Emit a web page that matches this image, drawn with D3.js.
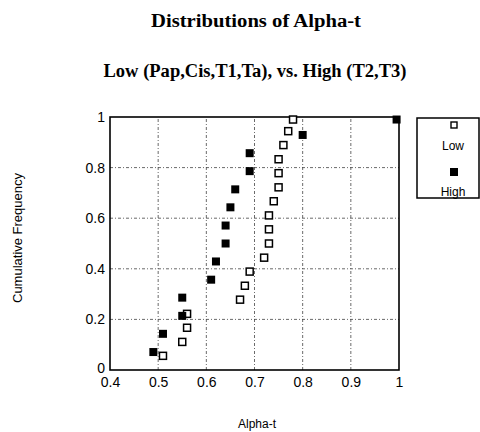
<!DOCTYPE html>
<html>
<head>
<meta charset="utf-8">
<script src="https://cdn.jsdelivr.net/npm/d3@7"></script>
<style>
	body { margin: 0; background: #fff; }
	.tick text { font-family: "Liberation Sans Narrow", "Liberation Sans", sans-serif; }
</style>
</head>
<body>
<script>
var width = 480,
	height = 432;

// Low group (Pap, Cis, T1, Ta): alpha-t and cumulative frequency
var lowX = [0.51, 0.55, 0.56, 0.56, 0.67, 0.68, 0.69, 0.72, 0.73, 0.73, 0.73, 0.74, 0.75, 0.75, 0.75, 0.76, 0.77, 0.78];
var lowY = [0.056, 0.111, 0.167, 0.222, 0.278, 0.333, 0.389, 0.444, 0.5, 0.556, 0.611, 0.667, 0.722, 0.778, 0.833, 0.889, 0.944, 0.99];

// High group (T2, T3)
var highX = [0.49, 0.51, 0.55, 0.55, 0.61, 0.62, 0.64, 0.64, 0.65, 0.66, 0.69, 0.69, 0.80, 0.995];
var highY = [0.071, 0.143, 0.214, 0.286, 0.357, 0.429, 0.5, 0.571, 0.643, 0.714, 0.786, 0.857, 0.929, 0.99];

var xTicks = [0.4, 0.5, 0.6, 0.7, 0.8, 0.9, 1];
var yTicks = [0, 0.2, 0.4, 0.6, 0.8, 1];

var margin = {left: 110, right: 81, top: 117, bottom: 62};

var x = d3.scaleLinear()
	.domain([0.4, 1])
	.range([margin.left, width - margin.right]);

var y = d3.scaleLinear()
	.domain([0, 1])
	.range([height - margin.bottom, margin.top]);

var svg = d3.select("body").append("svg")
	.attr("width", width)
	.attr("height", height);

// Titles
svg.append("text")
	.attr("x", 256)
	.attr("y", 27)
	.attr("text-anchor", "middle")
	.attr("textLength", 210)
	.attr("lengthAdjust", "spacingAndGlyphs")
	.style("font-family", "Liberation Serif, serif")
	.style("font-weight", "bold")
	.style("font-size", "18px")
	.text("Distributions of Alpha-t");

svg.append("text")
	.attr("x", 255)
	.attr("y", 77)
	.attr("text-anchor", "middle")
	.attr("textLength", 303)
	.attr("lengthAdjust", "spacingAndGlyphs")
	.style("font-family", "Liberation Serif, serif")
	.style("font-weight", "bold")
	.style("font-size", "18px")
	.text("Low (Pap,Cis,T1,Ta), vs. High (T2,T3)");

// Grid lines
var grid = svg.append("g")
	.attr("stroke", "#444")
	.attr("stroke-width", 0.8)
	.attr("stroke-dasharray", "3,2,1,2");

grid.selectAll(".gx")
	.data(xTicks.slice(1, -1))
	.enter().append("line")
		.attr("x1", function(d) { return x(d); })
		.attr("x2", function(d) { return x(d); })
		.attr("y1", y(0))
		.attr("y2", y(1));

grid.selectAll(".gy")
	.data(yTicks.slice(1, -1))
	.enter().append("line")
		.attr("x1", x(0.4))
		.attr("x2", x(1))
		.attr("y1", function(d) { return y(d); })
		.attr("y2", function(d) { return y(d); });

// Axes
var xAxis = svg.append("g")
	.attr("transform", "translate(0," + y(0) + ")")
	.call(d3.axisBottom(x).tickValues(xTicks).tickSize(0).tickPadding(7)
		.tickFormat(function(d) { return d === 1 ? "1" : d3.format(".1f")(d); }));
xAxis.select(".domain").remove();
xAxis.selectAll("text").style("font-size", "14px").attr("fill", "#000");

var yAxis = svg.append("g")
	.attr("transform", "translate(" + x(0.4) + ",0)")
	.call(d3.axisLeft(y).tickValues(yTicks).tickSize(0).tickPadding(5)
		.tickFormat(function(d) { return (d === 0 || d === 1) ? String(d) : d3.format(".1f")(d); }));
yAxis.select(".domain").remove();
yAxis.selectAll("text").style("font-size", "14px").attr("fill", "#000");
yAxis.selectAll("text").filter(function(d) { return d === 0; }).attr("dy", "0.2em");

// Frame
svg.append("rect")
	.attr("x", x(0.4))
	.attr("y", y(1))
	.attr("width", x(1) - x(0.4))
	.attr("height", y(0) - y(1))
	.attr("fill", "none")
	.attr("stroke", "#000")
	.attr("stroke-width", 1.6);

// Axis labels
svg.append("text")
	.attr("transform", "translate(22,238) rotate(-90)")
	.attr("text-anchor", "middle")
	.attr("textLength", 130)
	.attr("lengthAdjust", "spacingAndGlyphs")
	.style("font-family", "Liberation Sans Narrow, Liberation Sans, sans-serif")
	.style("font-size", "12px")
	.text("Cumulative Frequency");

svg.append("text")
	.attr("x", 257)
	.attr("y", 428)
	.attr("text-anchor", "middle")
	.style("font-family", "Liberation Sans Narrow, Liberation Sans, sans-serif")
	.style("font-size", "12px")
	.text("Alpha-t");

// Points
var ms = 7;

svg.append("g").selectAll("rect")
	.data(d3.zip(lowX, lowY))
	.enter().append("rect")
		.attr("x", function(d) { return x(d[0]) - ms / 2; })
		.attr("y", function(d) { return y(d[1]) - ms / 2; })
		.attr("width", ms)
		.attr("height", ms)
		.attr("fill", "#fff")
		.attr("stroke", "#000")
		.attr("stroke-width", 1.5);

svg.append("g").selectAll("rect")
	.data(d3.zip(highX, highY))
	.enter().append("rect")
		.attr("x", function(d) { return x(d[0]) - (ms + 1) / 2; })
		.attr("y", function(d) { return y(d[1]) - (ms + 1) / 2; })
		.attr("width", ms + 1)
		.attr("height", ms + 1)
		.attr("fill", "#000");

// Legend
var legend = svg.append("g");
legend.append("rect")
	.attr("x", 417)
	.attr("y", 118)
	.attr("width", 62)
	.attr("height", 80)
	.attr("fill", "#fff")
	.attr("stroke", "#000")
	.attr("stroke-width", 1.5);

legend.append("rect")
	.attr("x", 451)
	.attr("y", 122)
	.attr("width", 6)
	.attr("height", 6)
	.attr("fill", "#fff")
	.attr("stroke", "#000")
	.attr("stroke-width", 1.4);

legend.append("text")
	.attr("x", 453)
	.attr("y", 150)
	.attr("text-anchor", "middle")
	.style("font-family", "Liberation Sans Narrow, Liberation Sans, sans-serif")
	.style("font-size", "12px")
	.text("Low");

legend.append("rect")
	.attr("x", 450)
	.attr("y", 168)
	.attr("width", 8)
	.attr("height", 8)
	.attr("fill", "#000");

legend.append("text")
	.attr("x", 453)
	.attr("y", 196)
	.attr("text-anchor", "middle")
	.style("font-family", "Liberation Sans Narrow, Liberation Sans, sans-serif")
	.style("font-size", "12px")
	.text("High");
</script>
</body>
</html>
